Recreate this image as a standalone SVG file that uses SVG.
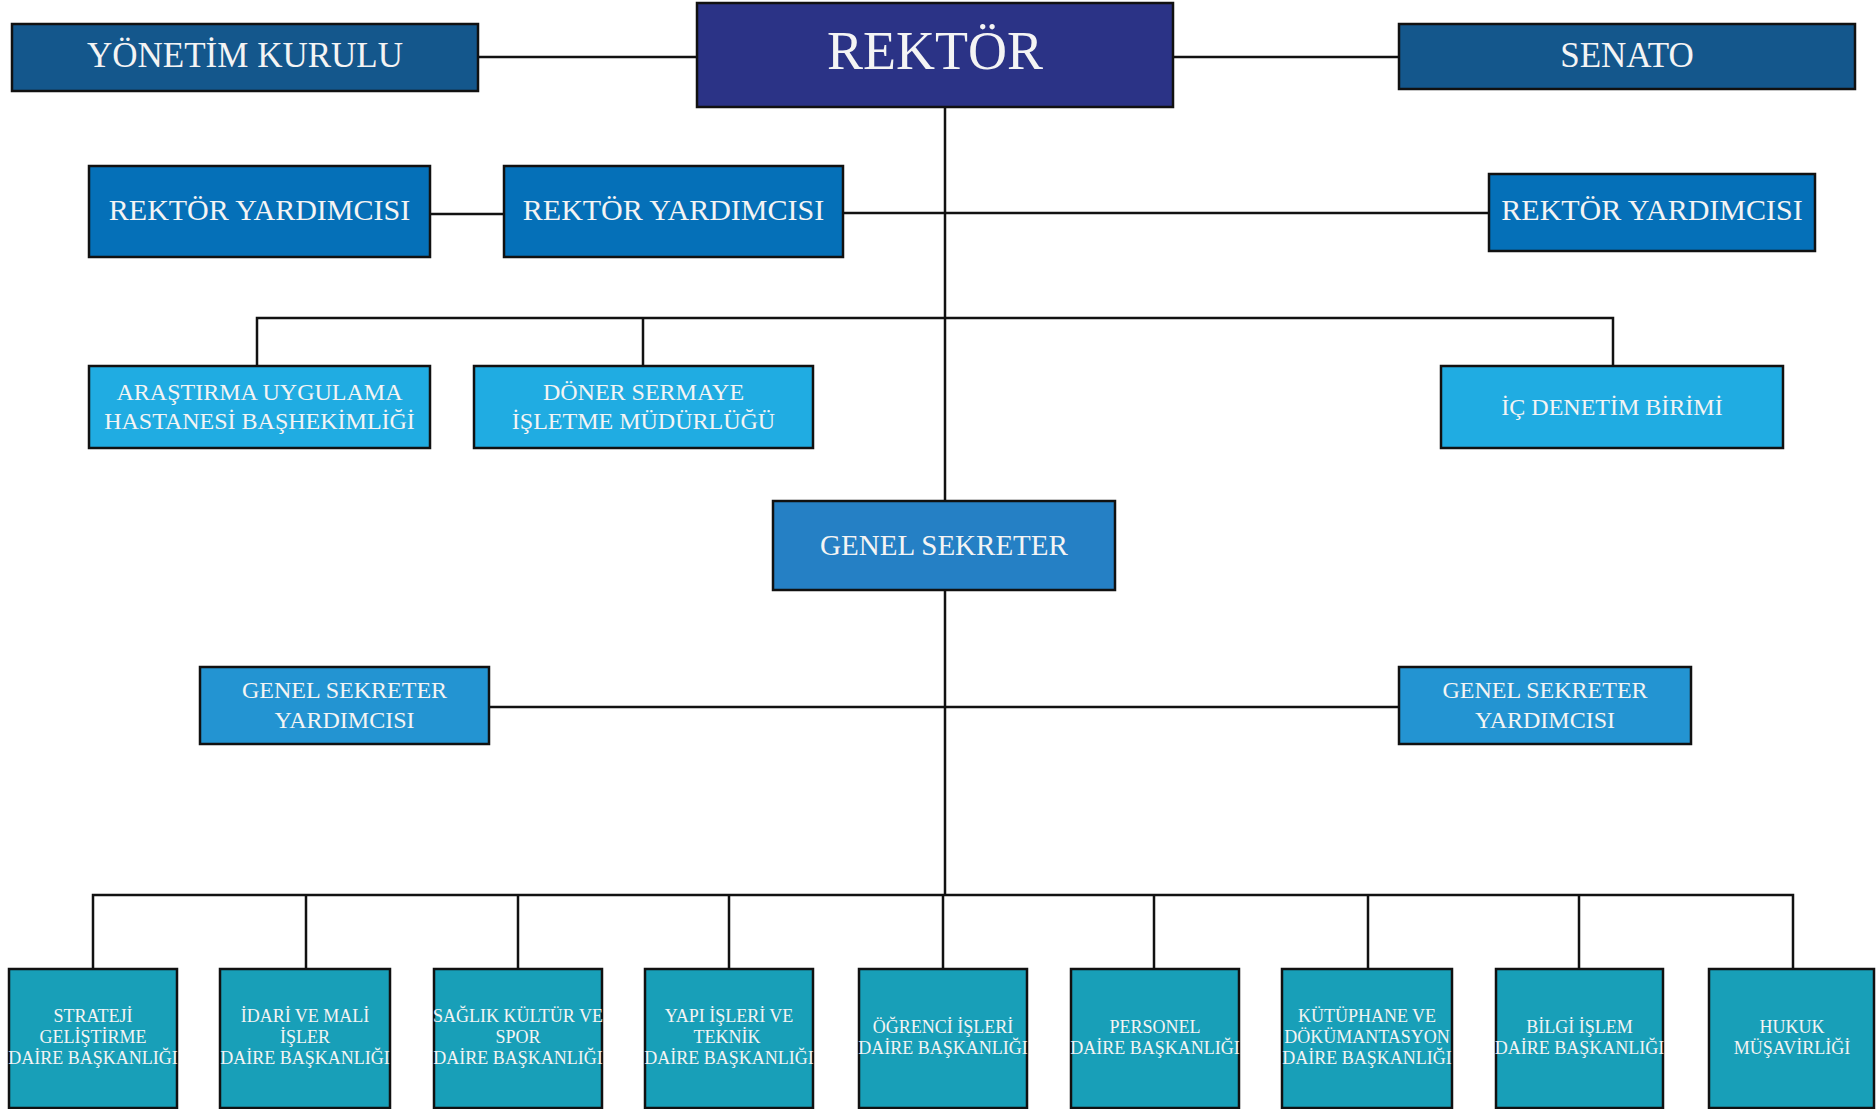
<svg xmlns="http://www.w3.org/2000/svg" width="1876" height="1109" viewBox="0 0 1876 1109">
<style>
.b{stroke:#111;stroke-width:2.5}
.t{font-family:"Liberation Serif","Times New Roman",serif;fill:#f4f4f4;text-anchor:middle}
.c{stroke:#111;stroke-width:2.5;fill:none}
.k{fill:#1f4f8a}
.top{fill:#14578c}
.ry{fill:#0570b8}
.lb{fill:#20ace2}
.gs{fill:#2580c5}
.gsy{fill:#2394d2}
.bt{fill:#189fb8}
</style>
<rect width="1876" height="1109" fill="#ffffff"/>
<g id="connectors">
<path class="c" d="M478 57H697M1173 57H1399M945 107V501M945 590V895M430 214H504M843 213H1489M257 366V318H1613V366M643 318V366M489 707H1399M93 969V895H1793V969M306 895V969M518 895V969M729 895V969M943 895V969M1154 895V969M1368 895V969M1579 895V969"/>
</g>
<g id="yonetim"><rect class="b top" x="12" y="24" width="466" height="67"/><text class="t" x="245" y="67" font-size="35">YÖNETİM KURULU</text></g>
<g id="rektor"><rect class="b" fill="#2b3386" x="697" y="3" width="476" height="104"/><text class="t" x="935" y="69" font-size="54">REKTÖR</text></g>
<g id="senato"><rect class="b top" x="1399" y="24" width="456" height="65"/><text class="t" x="1627" y="67" font-size="35">SENATO</text></g>
<g id="ry1"><rect class="b ry" x="89" y="166" width="341" height="91"/><text class="t" x="259.5" y="220" font-size="30">REKTÖR YARDIMCISI</text></g>
<g id="ry2"><rect class="b ry" x="504" y="166" width="339" height="91"/><text class="t" x="673.5" y="220" font-size="30">REKTÖR YARDIMCISI</text></g>
<g id="ry3"><rect class="b ry" x="1489" y="174" width="326" height="77"/><text class="t" x="1652" y="220" font-size="30">REKTÖR YARDIMCISI</text></g>
<g id="hastane"><rect class="b lb" x="89" y="366" width="341" height="82"/><text class="t" x="259.5" y="400" font-size="24">ARAŞTIRMA UYGULAMA</text><text class="t" x="259.5" y="429" font-size="24">HASTANESİ BAŞHEKİMLİĞİ</text></g>
<g id="doner"><rect class="b lb" x="474" y="366" width="339" height="82"/><text class="t" x="643.5" y="400" font-size="24">DÖNER SERMAYE</text><text class="t" x="643.5" y="429" font-size="24">İŞLETME MÜDÜRLÜĞÜ</text></g>
<g id="icdenetim"><rect class="b lb" x="1441" y="366" width="342" height="82"/><text class="t" x="1612" y="415" font-size="24">İÇ DENETİM BİRİMİ</text></g>
<g id="genelsekreter"><rect class="b gs" x="773" y="501" width="342" height="89"/><text class="t" x="944" y="555" font-size="29">GENEL SEKRETER</text></g>
<g id="gsy1"><rect class="b gsy" x="200" y="667" width="289" height="77"/><text class="t" x="344.5" y="698" font-size="24">GENEL SEKRETER</text><text class="t" x="344.5" y="728" font-size="24">YARDIMCISI</text></g>
<g id="gsy2"><rect class="b gsy" x="1399" y="667" width="292" height="77"/><text class="t" x="1545" y="698" font-size="24">GENEL SEKRETER</text><text class="t" x="1545" y="728" font-size="24">YARDIMCISI</text></g>
<g id="strateji"><rect class="b bt" x="9" y="969" width="168" height="139"/><text class="t" x="93" y="1022" font-size="18">STRATEJİ</text><text class="t" x="93" y="1043" font-size="18">GELİŞTİRME</text><text class="t" x="93" y="1064" font-size="18">DAİRE BAŞKANLIĞI</text></g>
<g id="idari"><rect class="b bt" x="220" y="969" width="170" height="139"/><text class="t" x="305" y="1022" font-size="18">İDARİ VE MALİ</text><text class="t" x="305" y="1043" font-size="18">İŞLER</text><text class="t" x="305" y="1064" font-size="18">DAİRE BAŞKANLIĞI</text></g>
<g id="saglik"><rect class="b bt" x="434" y="969" width="168" height="139"/><text class="t" x="518" y="1022" font-size="18">SAĞLIK KÜLTÜR VE</text><text class="t" x="518" y="1043" font-size="18">SPOR</text><text class="t" x="518" y="1064" font-size="18">DAİRE BAŞKANLIĞI</text></g>
<g id="yapi"><rect class="b bt" x="645" y="969" width="168" height="139"/><text class="t" x="729" y="1022" font-size="18">YAPI İŞLERİ VE</text><text class="t" x="727" y="1043" font-size="18">TEKNİK</text><text class="t" x="729" y="1064" font-size="18">DAİRE BAŞKANLIĞI</text></g>
<g id="ogrenci"><rect class="b bt" x="859" y="969" width="168" height="139"/><text class="t" x="943" y="1033" font-size="18">ÖĞRENCİ İŞLERİ</text><text class="t" x="943" y="1054" font-size="18">DAİRE BAŞKANLIĞI</text></g>
<g id="personel"><rect class="b bt" x="1071" y="969" width="168" height="139"/><text class="t" x="1155" y="1033" font-size="18">PERSONEL</text><text class="t" x="1155" y="1054" font-size="18">DAİRE BAŞKANLIĞI</text></g>
<g id="kutuphane"><rect class="b bt" x="1282" y="969" width="170" height="139"/><text class="t" x="1367" y="1022" font-size="18">KÜTÜPHANE VE</text><text class="t" x="1367" y="1043" font-size="18">DÖKÜMANTASYON</text><text class="t" x="1367" y="1064" font-size="18">DAİRE BAŞKANLIĞI</text></g>
<g id="bilgi"><rect class="b bt" x="1496" y="969" width="167" height="139"/><text class="t" x="1579.5" y="1033" font-size="18">BİLGİ İŞLEM</text><text class="t" x="1579.5" y="1054" font-size="18">DAİRE BAŞKANLIĞI</text></g>
<g id="hukuk"><rect class="b bt" x="1709" y="969" width="165" height="139"/><text class="t" x="1792" y="1033" font-size="18">HUKUK</text><text class="t" x="1792" y="1054" font-size="18">MÜŞAVİRLİĞİ</text></g>
</svg>
